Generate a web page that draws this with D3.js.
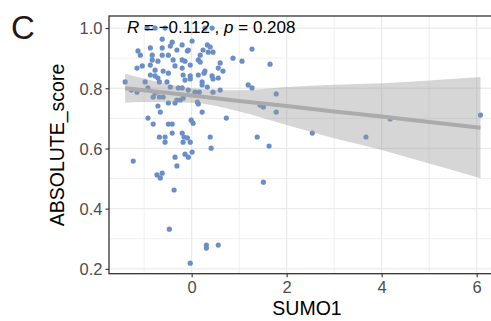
<!DOCTYPE html>
<html>
<head>
<meta charset="utf-8">
<script src="https://cdn.jsdelivr.net/npm/d3@7/dist/d3.min.js"></script>
<style>
  html, body { margin: 0; padding: 0; background: #ffffff; }
  svg { display: block; }
  text { font-family: "Liberation Sans", Arial, Helvetica, sans-serif; }
</style>
</head>
<body>
<script>
// ---- data ----
const sumo1 = [
  -0.94,-0.77,-0.56,0.28,0.43,
  -0.62,0.01,-0.41,-0.45,-0.20,0.33,0.39,-0.31,-0.09,-0.87,-0.62,-1.13,-1.08,-0.83,-0.62,
  -0.49,-0.07,0.18,0.24,0.35,0.45,0.14,0.18,-0.83,-0.71,-0.39,-0.20,-0.14,-0.03,-1.15,
  -1.04,-0.87,-0.77,-0.60,-0.49,-0.35,-0.20,-0.18,-0.87,-0.77,0.28,0.56,0.66,0.60,0.87,
  1.06,1.27,1.65,-0.03,0.14,0.43,-0.71,0.26,0.56,
  -1.40,-1.27,-1.15,-0.98,-0.92,-0.68,-0.52,-0.45,-0.77,-0.68,-0.60,-0.81,-0.28,-0.20,
  -0.07,-0.14,-0.03,0.22,0.22,0.45,0.07,0.16,0.33,0.45,0.60,-0.49,-0.35,-0.31,-0.24,
  -0.18,-0.71,-0.66,0.12,0.14,0.22,1.19,1.27,1.44,1.51,1.78,1.78,0.73,
  -0.92,-0.81,-0.49,-0.41,-0.01,0.03,-0.68,-0.56,-0.56,-0.41,-0.20,-0.16,-0.09,-0.03,
  0.39,0.41,1.38,1.63,2.54,3.67,4.18,6.08,-0.18,
  -1.23,-0.35,-0.31,-0.14,-0.07,0.01,-0.73,-0.62,-0.66,-0.37,-0.47,-0.03,0.31,0.31,0.56,1.51
];
const absoluteScore = [
  1.000,1.000,1.000,1.000,1.000,
  0.963,0.957,0.953,0.940,0.944,0.944,0.937,0.927,0.924,0.934,0.934,0.924,0.910,0.910,0.910,
  0.910,0.927,0.910,0.927,0.920,0.920,0.894,0.887,0.894,0.890,0.894,0.894,0.890,0.877,0.867,
  0.874,0.877,0.860,0.857,0.850,0.874,0.867,0.844,0.844,0.841,0.857,0.867,0.857,0.884,0.900,
  0.890,0.930,0.880,0.841,0.844,0.841,0.834,0.850,0.834,
  0.821,0.794,0.787,0.821,0.801,0.821,0.821,0.804,0.784,0.771,0.771,0.771,0.801,0.801,
  0.794,0.827,0.831,0.821,0.811,0.831,0.787,0.787,0.804,0.787,0.794,0.751,0.751,0.761,0.761,
  0.767,0.741,0.721,0.754,0.748,0.721,0.811,0.801,0.744,0.738,0.781,0.721,0.701,
  0.701,0.681,0.681,0.681,0.694,0.684,0.638,0.638,0.621,0.651,0.651,0.638,0.635,0.621,
  0.638,0.601,0.638,0.608,0.651,0.638,0.698,0.711,0.621,
  0.558,0.571,0.542,0.581,0.571,0.588,0.512,0.518,0.502,0.462,0.332,0.219,0.279,0.269,0.279,0.488
];
// linear fit with 95% confidence band
const bandX   = [-1.40, -1.00, 0.00, 1.00, 2.00, 3.00, 4.00, 5.00, 6.08];
const bandFit = [0.800, 0.793, 0.776, 0.758, 0.741, 0.723, 0.706, 0.688, 0.669];
const bandLo  = [0.752, 0.754, 0.752, 0.723, 0.678, 0.634, 0.595, 0.550, 0.501];
const bandHi  = [0.848, 0.832, 0.800, 0.793, 0.804, 0.812, 0.817, 0.826, 0.837];

const xTicks = [0, 2, 4, 6];
const xMinor = [-1, 1, 3, 5];
const yTicks = [0.2, 0.4, 0.6, 0.8, 1.0];
const yMinor = [0.3, 0.5, 0.7, 0.9];
const panelLabel = "C";
const xTitle = "SUMO1";
const yTitle = "ABSOLUTE_score";
const statR = "\u22120.112";
const statP = "0.208";

// ---- layout ----
const W = 491, H = 321;
const panel = { left: 109, right: 499, top: 16, bottom: 273.7 };

const svg = d3.select("body").append("svg").attr("width", W).attr("height", H);

const x = d3.scaleLinear().domain([-1.74, 6.47]).range([panel.left, panel.right]);
const y = d3.scaleLinear().domain([0.184, 1.04]).range([panel.bottom, panel.top]);

svg.append("defs").append("clipPath").attr("id", "clip")
  .append("rect").attr("x", panel.left).attr("y", panel.top)
  .attr("width", panel.right - panel.left).attr("height", panel.bottom - panel.top);

const g = svg.append("g").attr("clip-path", "url(#clip)");

// grid
g.selectAll(".xminor").data(xMinor).enter().append("line")
  .attr("x1", d => x(d)).attr("x2", d => x(d))
  .attr("y1", panel.top).attr("y2", panel.bottom)
  .attr("stroke", "#ebebeb").attr("stroke-width", 0.8);
g.selectAll(".yminor").data(yMinor).enter().append("line")
  .attr("y1", d => y(d)).attr("y2", d => y(d))
  .attr("x1", panel.left).attr("x2", panel.right)
  .attr("stroke", "#ebebeb").attr("stroke-width", 0.8);
g.selectAll(".xmajor").data(xTicks).enter().append("line")
  .attr("x1", d => x(d)).attr("x2", d => x(d))
  .attr("y1", panel.top).attr("y2", panel.bottom)
  .attr("stroke", "#ebebeb").attr("stroke-width", 1.3);
g.selectAll(".ymajor").data(yTicks).enter().append("line")
  .attr("y1", d => y(d)).attr("y2", d => y(d))
  .attr("x1", panel.left).attr("x2", panel.right)
  .attr("stroke", "#ebebeb").attr("stroke-width", 1.3);

// points
const pts = sumo1.map((v, i) => ({ x: v, y: absoluteScore[i] }));
g.selectAll("circle").data(pts).enter().append("circle")
  .attr("cx", d => x(d.x)).attr("cy", d => y(d.y))
  .attr("r", 2.6).attr("fill", "#6a8ec8");

// confidence band
const band = bandX.map((v, i) => ({ x: v, lo: bandLo[i], hi: bandHi[i], fit: bandFit[i] }));
g.append("path").datum(band)
  .attr("d", d3.area().x(d => x(d.x)).y0(d => y(d.lo)).y1(d => y(d.hi)).curve(d3.curveMonotoneX))
  .attr("fill", "#999999").attr("fill-opacity", 0.4);
g.append("path").datum(band)
  .attr("d", d3.line().x(d => x(d.x)).y(d => y(d.fit)))
  .attr("fill", "none").attr("stroke", "#ababab").attr("stroke-width", 4);

// panel border
svg.append("rect")
  .attr("x", panel.left).attr("y", panel.top)
  .attr("width", panel.right - panel.left).attr("height", panel.bottom - panel.top)
  .attr("fill", "none").attr("stroke", "#333333").attr("stroke-width", 1.3);

// axes
const xAxis = svg.append("g").attr("transform", `translate(0,${panel.bottom})`)
  .call(d3.axisBottom(x).tickValues(xTicks).tickFormat(d3.format("d")).tickSizeOuter(0).tickSize(3.5).tickPadding(3));
const yAxis = svg.append("g").attr("transform", `translate(${panel.left},0)`)
  .call(d3.axisLeft(y).tickValues(yTicks).tickFormat(d3.format(".1f")).tickSizeOuter(0).tickSize(3.5).tickPadding(3));
[xAxis, yAxis].forEach(a => {
  a.select(".domain").remove();
  a.selectAll(".tick line").attr("stroke", "#333333").attr("stroke-width", 1.1);
  a.selectAll(".tick text").attr("fill", "#4d4d4d").style("font-size", "16.5px")
    .style("font-family", "'Liberation Sans', Arial, sans-serif");
});
xAxis.selectAll(".tick text").attr("dy", null).attr("y", 19.5);
yAxis.selectAll(".tick text").attr("dy", "0.36em");

// titles
svg.append("text").attr("x", 307).attr("y", 315).attr("text-anchor", "middle")
  .style("font-size", "19.5px").attr("fill", "#000").text(xTitle);
svg.append("text").attr("transform", "translate(64,145) rotate(-90)").attr("text-anchor", "middle")
  .style("font-size", "19.5px").attr("fill", "#000").text(yTitle);

// panel letter
svg.append("text").attr("x", 11).attr("y", 39)
  .style("font-size", "33px").attr("fill", "#231816").text(panelLabel);

// correlation annotation
const ann = svg.append("text").attr("x", 127).attr("y", 32.5)
  .style("font-size", "17px").attr("fill", "#000");
ann.append("tspan").style("font-style", "italic").text("R");
ann.append("tspan").text(" = " + statR + " , ");
ann.append("tspan").style("font-style", "italic").text("p");
ann.append("tspan").text(" = " + statP);
</script>
</body>
</html>
